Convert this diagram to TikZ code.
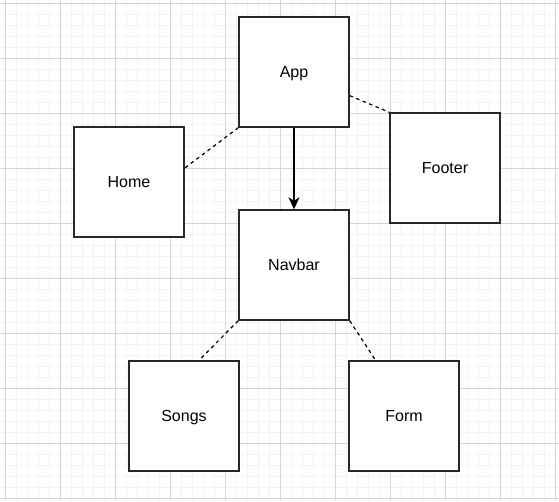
\documentclass[tikz,border=0pt]{standalone}
\usepackage{fontspec}
\setmainfont{Liberation Sans}
\usetikzlibrary{arrows.meta}
\definecolor{gridminor}{RGB}{243,243,243}
\definecolor{gridmajor}{RGB}{214,214,214}
\definecolor{boxline}{RGB}{40,40,40}
\begin{document}
\begin{tikzpicture}[x=1pt,y=-1pt,
  compbox/.style={draw=boxline, line width=1.4pt, fill=white, minimum width=110pt, minimum height=110pt, inner sep=0pt, text height=11.5pt, text depth=0pt, font=\fontsize{16}{19}\selectfont},
  link/.style={draw=black, line width=1.2pt, dash pattern=on 3.5pt off 3.5pt},
  flow/.style={draw=black, line width=1.3pt, -{Stealth[length=12pt,width=11pt,inset=3.5pt]}},
  minorline/.style={draw=gridminor, line width=1pt},
  majorline/.style={draw=gridmajor, line width=0.8pt}]
\useasboundingbox (0,0) rectangle (559,501);
\fill[white] (0,0) rectangle (559,501);
\foreach \i in {0,...,50} \draw[minorline] ({5+11*\i},0) -- ({5+11*\i},501);
\foreach \i in {0,...,45} \draw[minorline] (0,{3+11*\i}) -- (559,{3+11*\i});
\foreach \i in {0,...,10} \draw[majorline] ({5+55*\i},0) -- ({5+55*\i},501);
\foreach \i in {0,...,9} \draw[majorline] (0,{3+55*\i}) -- (559,{3+55*\i});

\node[compbox] (app) at (294,72) {App};
\node[compbox] (home) at (129,182) {Home};
\node[compbox] (footer) at (445,168) {Footer};
\node[compbox] (navbar) at (294,265) {Navbar};
\node[compbox] (songs) at (184,416) {Songs};
\node[compbox] (form) at (404,416) {Form};

\draw[flow] (app.south) -- (navbar.north);
\draw[link] (app.south west) -- (home.14.3);
\draw[link] (app.-23.6) -- (footer.north west);
\draw[link] (navbar.south west) -- (songs.75.7);
\draw[link] (navbar.south east) -- (form.117);
\end{tikzpicture}
\end{document}
